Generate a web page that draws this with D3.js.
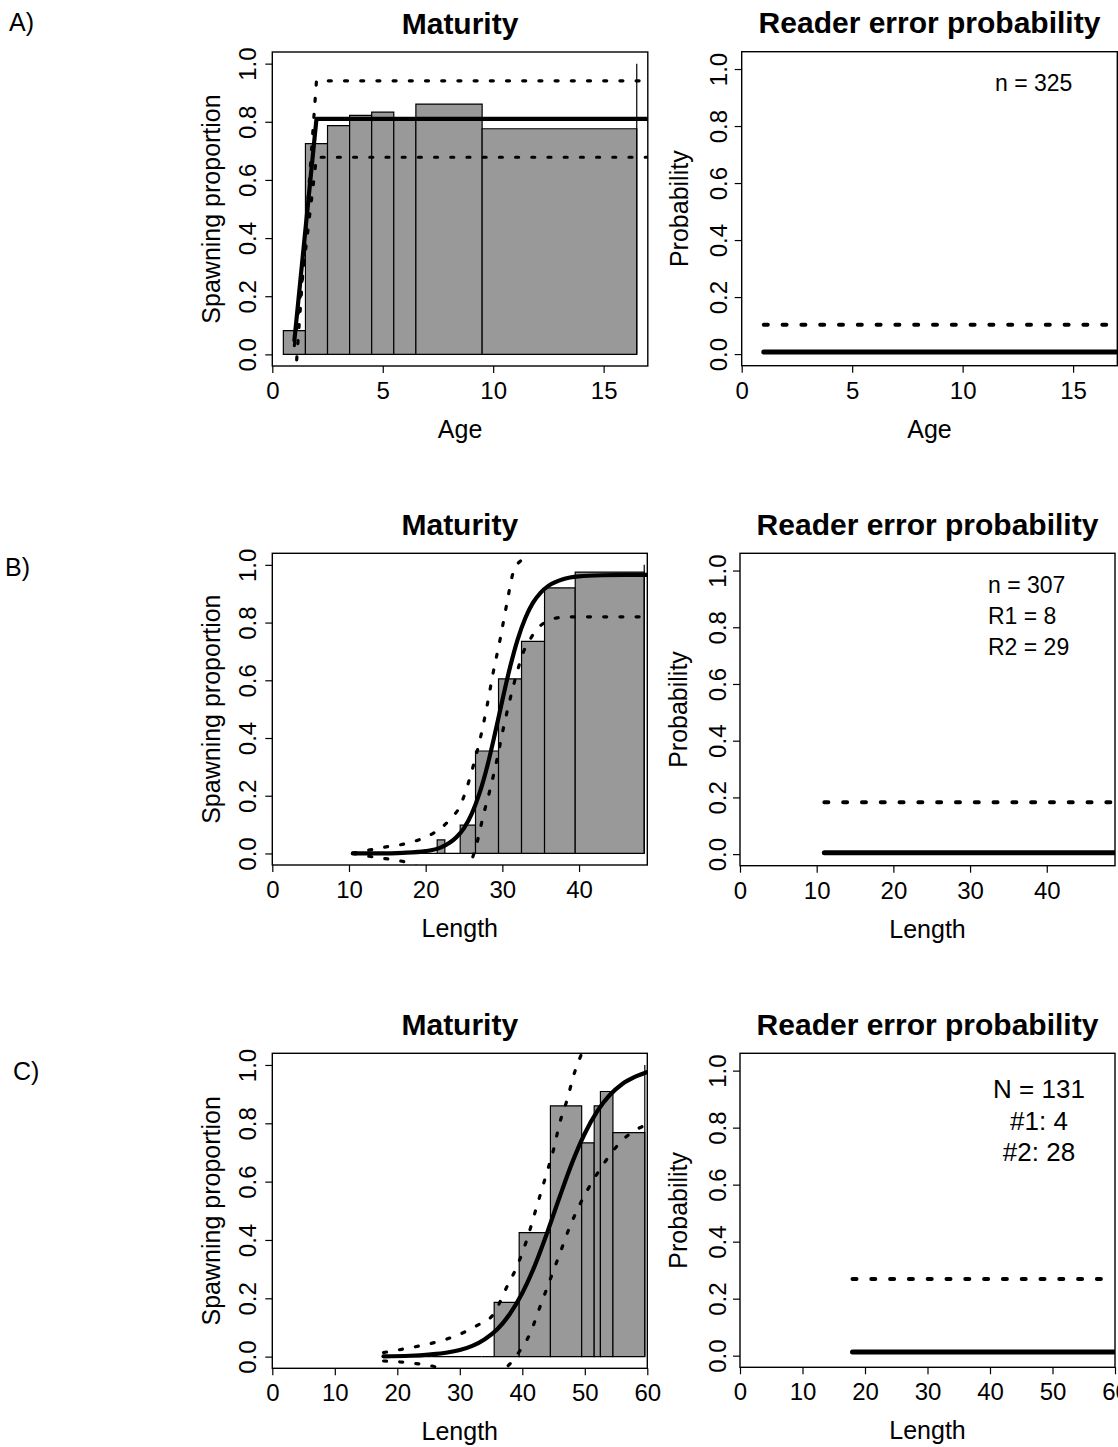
<!DOCTYPE html>
<html lang="en">
<head>
<meta charset="utf-8">
<title>Maturity and reader error probability</title>
<script src="https://d3js.org/d3.v7.min.js"></script>
<style>
  body { margin: 0; background: #fff; }
  text { font-family: "Liberation Sans", Arial, sans-serif; fill: #000; }
</style>
</head>
<body>
<script>
// ---------- values ----------

// A) maturity at age
var ageLo   = [0.5, 1.5, 2.5, 3.5, 4.5, 5.5, 6.5, 9.5];
var ageHi   = [1.5, 2.5, 3.5, 4.5, 5.5, 6.5, 9.5, 16.5];
var ageProp = [0.082, 0.725, 0.787, 0.822, 0.833, 0.81, 0.861, 0.776];
var ageFitX = [1, 2, 17];
var ageFit  = [0.048, 0.81, 0.81];
var ageUpper = [-0.13, 0.941, 0.941];
var ageLower = [0.03, 0.678, 0.678];
var ageErrX = [1, 17];
var ageErrFit = [0.007, 0.007];
var ageErrUpper = [0.103, 0.103];

// B) maturity at length
var lenBLo   = [10.5, 21.5, 22.5, 24.5, 26.5, 29.5, 32.5, 35.5, 39.5];
var lenBHi   = [21.5, 22.5, 24.5, 26.5, 29.5, 32.5, 35.5, 39.5, 48.5];
var lenBProp = [0, 0.047, 0, 0.098, 0.355, 0.605, 0.735, 0.92, 0.975];
var fitBX = [10.5, 14, 17, 20, 22, 24, 25, 26, 27, 28, 29, 30, 31, 32, 33, 34, 35, 36, 38, 40, 43, 46, 48.9];
var fitB  = [0.000, 0.000, 0.002, 0.008, 0.021, 0.056, 0.088, 0.137, 0.207, 0.299, 0.411, 0.531, 0.645, 0.742, 0.816, 0.869, 0.904, 0.927, 0.951, 0.960, 0.964, 0.965, 0.965];
var upperBX = [10.5, 14.5, 18.0, 20.8, 22.1, 23.2, 24.5, 25.3, 26.2, 27.1, 28.0, 28.8, 29.7, 30.6, 31.4, 32.5];
var upperB  = [0.001, 0.021, 0.038, 0.067, 0.090, 0.119, 0.165, 0.222, 0.303, 0.396, 0.511, 0.626, 0.741, 0.868, 0.972, 1.016];
var lowerBX = [10.5, 13.6, 15.8, 17.5, 20, 23, 25, 25.8, 26.7, 27.5, 28.4, 29.3, 30.1, 31.0, 31.9, 32.7, 33.6, 34.5, 35.8, 37.1, 38.8, 48.9];
var lowerB  = [0.000, -0.014, -0.022, -0.031, -0.06, -0.11, -0.10, -0.04, 0.038, 0.130, 0.222, 0.326, 0.430, 0.534, 0.626, 0.695, 0.741, 0.776, 0.805, 0.816, 0.820, 0.820];
var errBX = [11, 48.9];
var errBFit = [0.005, 0.005];
var errBUpper = [0.183, 0.183];

// C) maturity at length
var lenCLo   = [17.5, 25.5, 33.5, 35.5, 39.5, 44.5, 49.5, 51.5, 52.5, 54.5];
var lenCHi   = [25.5, 33.5, 35.5, 39.5, 44.5, 49.5, 51.5, 52.5, 54.5, 59.6];
var lenCProp = [0, 0, 0, 0.186, 0.425, 0.86, 0.733, 0.86, 0.909, 0.768];
var fitCX = [17.8, 22, 25, 28, 30, 32, 34, 36, 38, 40, 42, 44, 46, 48, 50, 52, 54, 56, 58, 60];
var fitC  = [0.001, 0.003, 0.007, 0.014, 0.023, 0.037, 0.060, 0.094, 0.146, 0.218, 0.312, 0.426, 0.549, 0.666, 0.765, 0.842, 0.897, 0.935, 0.959, 0.976];
var upperCX = [17.8, 20.7, 24.7, 27.9, 30.0, 32.7, 35.4, 37.5, 39.1, 40.7, 42.3, 43.9, 45.0, 46.0, 47.2, 48.2, 49.6];
var upperC  = [0.014, 0.025, 0.042, 0.060, 0.077, 0.106, 0.146, 0.238, 0.307, 0.399, 0.514, 0.629, 0.710, 0.802, 0.883, 0.963, 1.044];
var lowerCX = [17.8, 21.8, 25.5, 30, 34, 37.7, 39.6, 41.2, 42.8, 44.4, 46.0, 47.6, 49.3, 51.4, 53.5, 55.6, 58.3, 60];
var lowerC  = [-0.015, -0.021, -0.032, -0.06, -0.07, -0.032, 0.020, 0.077, 0.169, 0.261, 0.353, 0.445, 0.526, 0.607, 0.676, 0.733, 0.779, 0.796];
var errCX = [18, 60];
var errCFit = [0.013, 0.013];
var errCUpper = [0.269, 0.269];

var yTicks = [0, 0.2, 0.4, 0.6, 0.8, 1.0];

// ---------- drawing ----------
var svg = d3.select("body").append("svg")
    .attr("width", 1118).attr("height", 1447);
var defs = svg.append("defs");
var clipN = 0;

function frame(box, xMax, yDom, xTicks, yLabOff, title, xLab, yLab, yTitleOff) {
  var x = d3.scaleLinear().domain([0, xMax]).range([box.x0, box.x1]);
  var y = d3.scaleLinear().domain(yDom).range([box.y1, box.y0]);
  var g = svg.append("g");
  var id = "clip" + (clipN++);
  defs.append("clipPath").attr("id", id).append("rect")
      .attr("x", box.x0).attr("y", box.y0)
      .attr("width", box.x1 - box.x0).attr("height", box.y1 - box.y0);
  var plot = g.append("g").attr("clip-path", "url(#" + id + ")");

  var xa = g.append("g").attr("transform", "translate(0," + box.y1 + ")")
      .call(d3.axisBottom(x).tickValues(xTicks).tickSize(7).tickPadding(9)
            .tickFormat(d3.format("d")));
  xa.select(".domain").remove();
  xa.selectAll("text").attr("font-size", 24).attr("font-family", null);

  var ya = g.append("g").attr("transform", "translate(" + box.x0 + ",0)")
      .call(d3.axisLeft(y).tickValues(yTicks).tickSize(7).tickFormat(d3.format(".1f")));
  ya.select(".domain").remove();
  ya.selectAll("text")
      .attr("x", null).attr("dy", null).attr("y", 0)
      .attr("text-anchor", "middle")
      .attr("font-size", 24).attr("font-family", null)
      .attr("transform", "translate(" + (-yLabOff) + ",0) rotate(-90)");
  g.selectAll(".tick line").attr("stroke", "#000").attr("stroke-width", 1.2);

  g.append("rect")
      .attr("x", box.x0).attr("y", box.y0)
      .attr("width", box.x1 - box.x0).attr("height", box.y1 - box.y0)
      .attr("fill", "none").attr("stroke", "#000").attr("stroke-width", 1.4);

  var cx = (box.x0 + box.x1) / 2;
  g.append("text").attr("x", cx).attr("y", box.y0 - 18.5)
      .attr("text-anchor", "middle").attr("font-size", 30).attr("font-weight", "bold")
      .text(title);
  g.append("text").attr("x", cx).attr("y", box.y1 + 72)
      .attr("text-anchor", "middle").attr("font-size", 25).text(xLab);
  g.append("text")
      .attr("transform", "translate(" + (box.x0 - yTitleOff) + "," + ((box.y0 + box.y1) / 2) + ") rotate(-90)")
      .attr("text-anchor", "middle").attr("font-size", 25).text(yLab);

  return { x: x, y: y, g: g, plot: plot };
}

function addLine(p, xs, ys, opt) {
  var line = d3.line()
      .x(function(i) { return p.x(xs[i]); })
      .y(function(i) { return p.y(ys[i]); })
      .curve(opt.curve || d3.curveLinear);
  p.plot.append("path")
      .attr("d", line(d3.range(xs.length)))
      .attr("fill", "none").attr("stroke", "#000")
      .attr("stroke-width", opt.width)
      .attr("stroke-linecap", "round")
      .attr("stroke-linejoin", "round")
      .attr("stroke-dasharray", opt.dash || null);
}

function bars(p, lo, hi, prop) {
  p.plot.selectAll("path.bar").data(d3.range(lo.length)).enter()
    .append("path").attr("class", "bar")
      .attr("d", function(i) {
        var x0 = p.x(lo[i]), x1 = p.x(hi[i]), y0 = p.y(0), y1 = p.y(prop[i]);
        return "M" + x0 + "," + y0 + "V" + y1 + "H" + x1 + "V" + y0 + "Z";
      })
      .attr("fill", "#999999").attr("stroke", "#000").attr("stroke-width", 1.2);
  var last = hi[hi.length - 1];
  p.plot.append("line")
      .attr("x1", p.x(last)).attr("x2", p.x(last))
      .attr("y1", p.y(0)).attr("y2", p.y(1))
      .attr("stroke", "#000").attr("stroke-width", 1.2);
}

function maturity(box, xMax, xTicks, xLab, lo, hi, prop, fx, fit, ux, up, lx, low, curve) {
  var p = frame(box, xMax, [-0.04, 1.04], xTicks, 16.5, "Maturity", xLab, "Spawning proportion", 52);
  bars(p, lo, hi, prop);
  addLine(p, ux, up, { width: 3.2, dash: "3,13.2", curve: curve });
  addLine(p, lx, low, { width: 3.2, dash: "3,13.2", curve: curve });
  addLine(p, fx, fit, { width: 4.2, curve: curve });
  return p;
}

function readerError(box, xMax, xTicks, xLab, ex, fit, up) {
  var p = frame(box, xMax, [-0.0408, 1.0608], xTicks, 14.5, "Reader error probability", xLab, "Probability", 53.5);
  addLine(p, ex, up, { width: 4, dash: "4,14.8" });
  addLine(p, ex, fit, { width: 5 });
  return p;
}

// row A
maturity({ x0: 272.3, x1: 647.8, y0: 52, y1: 366 }, 17, [0, 5, 10, 15], "Age",
         ageLo, ageHi, ageProp, ageFitX, ageFit, ageFitX, ageUpper, ageFitX, ageLower, d3.curveLinear);
readerError({ x0: 741.7, x1: 1117.3, y0: 51.7, y1: 365.7 }, 17, [0, 5, 10, 15], "Age",
         ageErrX, ageErrFit, ageErrUpper);

// row B
maturity({ x0: 272.3, x1: 647.3, y0: 553.3, y1: 865 }, 48.9, [0, 10, 20, 30, 40], "Length",
         lenBLo, lenBHi, lenBProp, fitBX, fitB, upperBX, upperB, lowerBX, lowerB, d3.curveMonotoneX);
readerError({ x0: 740, x1: 1115, y0: 553.3, y1: 865.7 }, 48.9, [0, 10, 20, 30, 40], "Length",
         errBX, errBFit, errBUpper);

// row C
maturity({ x0: 272.3, x1: 647.3, y0: 1053.3, y1: 1368.3 }, 60, [0, 10, 20, 30, 40, 50, 60], "Length",
         lenCLo, lenCHi, lenCProp, fitCX, fitC, upperCX, upperC, lowerCX, lowerC, d3.curveMonotoneX);
readerError({ x0: 740, x1: 1115, y0: 1053.3, y1: 1367.3 }, 60, [0, 10, 20, 30, 40, 50, 60], "Length",
         errCX, errCFit, errCUpper);

// sample size notes
var calib = "Lato, 'Open Sans', sans-serif";
svg.append("text").attr("x", 995).attr("y", 91).attr("font-size", 23)
   .attr("font-family", calib).text("n = 325");
var notesB = ["n = 307", "R1 = 8", "R2 = 29"];
svg.selectAll("text.noteB").data(notesB).enter().append("text").attr("class", "noteB")
   .attr("x", 988).attr("y", function(d, i) { return 593 + i * 31; })
   .attr("font-size", 23).attr("font-family", calib).text(function(d) { return d; });
var notesC = ["N = 131", "#1: 4", "#2: 28"];
svg.selectAll("text.noteC").data(notesC).enter().append("text").attr("class", "noteC")
   .attr("x", 1039).attr("y", function(d, i) { return 1098 + i * 31.5; })
   .attr("text-anchor", "middle").attr("font-size", 26).text(function(d) { return d; });

// panel letters
var letters = [["A)", 9, 31], ["B)", 5, 576], ["C)", 13, 1080]];
svg.selectAll("text.letter").data(letters).enter().append("text").attr("class", "letter")
   .attr("x", function(d) { return d[1]; }).attr("y", function(d) { return d[2]; })
   .attr("font-size", 25).attr("font-family", calib).text(function(d) { return d[0]; });
</script>
</body>
</html>
